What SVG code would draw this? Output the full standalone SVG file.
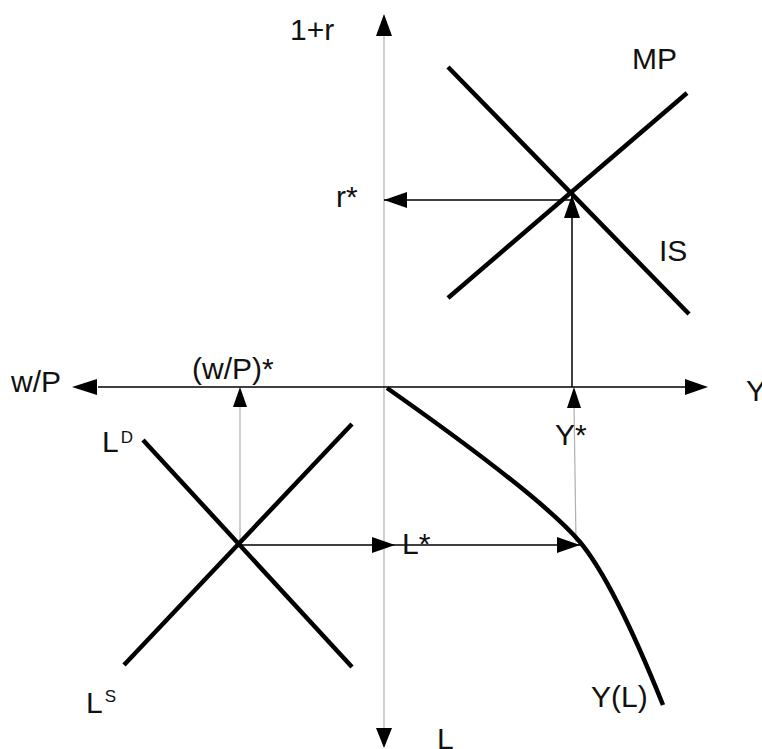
<svg xmlns="http://www.w3.org/2000/svg" width="762" height="749" viewBox="0 0 762 749">
<style>
text{font-family:"Liberation Sans",Arial,sans-serif;font-size:30px;fill:#111}
.sup{font-size:17px}
.thick{stroke:#000;stroke-width:4.5;fill:none;stroke-linecap:butt}
.thin{stroke:#000;stroke-width:1.5;fill:none}
.grey{stroke:#b0b0b0;stroke-width:1.2;fill:none}
</style>
<defs>
<marker id="ah" markerUnits="userSpaceOnUse" markerWidth="24" markerHeight="16" viewBox="0 0 24 16" refX="23" refY="8" orient="auto">
<path d="M0,0 L23,8 L0,16 Z" fill="#000"/>
</marker>
</defs>
<rect width="762" height="749" fill="#fff"/>
<g id="connectors">
<line class="grey" x1="384" y1="36" x2="384" y2="728"/>
<path d="M384,36 L376,36 L384,14 L392,36 Z" fill="#000"/>
<path d="M384,728 L376,728 L384,748 L392,728 Z" fill="#000"/>
<line class="thin" x1="98" y1="387" x2="686" y2="387"/>
<path d="M97,379 L72,387 L97,395 Z" fill="#000"/>
<path d="M685,379 L708,387 L685,395 Z" fill="#000"/>
<line class="thin" x1="572" y1="200" x2="384" y2="200" marker-end="url(#ah)"/>
<line class="thin" x1="572" y1="387" x2="572" y2="195" marker-end="url(#ah)"/>
<line class="grey" x1="240" y1="545" x2="240" y2="405"/>
<path d="M233,407 L240,387 L247,407 Z" fill="#000"/>
<line class="grey" x1="576" y1="542" x2="574" y2="405"/>
<path d="M567,408 L574,387 L581,408 Z" fill="#000"/>
<line class="thin" x1="240" y1="545" x2="395" y2="545" marker-end="url(#ah)"/>
<line class="thin" x1="395" y1="545" x2="580" y2="545" marker-end="url(#ah)"/>
</g>
<g id="IS"><line class="thick" x1="448" y1="67" x2="689" y2="314"/><text x="659" y="261">IS</text></g>
<g id="MP"><line class="thick" x1="448" y1="298" x2="687" y2="93"/><text x="632" y="69">MP</text></g>
<g id="LD"><line class="thick" x1="143" y1="440" x2="352" y2="667"/><text x="102" y="452">L<tspan class="sup" dx="2" dy="-9">D</tspan></text></g>
<g id="LS"><line class="thick" x1="124" y1="665" x2="352" y2="424"/><text x="86" y="713">L<tspan class="sup" dx="2" dy="-11">S</tspan></text></g>
<g id="YL"><path class="thick" d="M387,388 Q542,497 580,542 Q614,583 663,705"/><text x="591" y="707">Y(L)</text></g>
<g id="labels">
<text x="290" y="40">1+r</text>
<text x="336" y="207">r*</text>
<text x="11" y="392">w/P</text>
<text x="192" y="379">(w/P)*</text>
<text x="746" y="401">Y</text>
<text x="555" y="445">Y*</text>
<text x="402" y="554">L*</text>
<text x="437" y="749">L</text>
</g>
</svg>
